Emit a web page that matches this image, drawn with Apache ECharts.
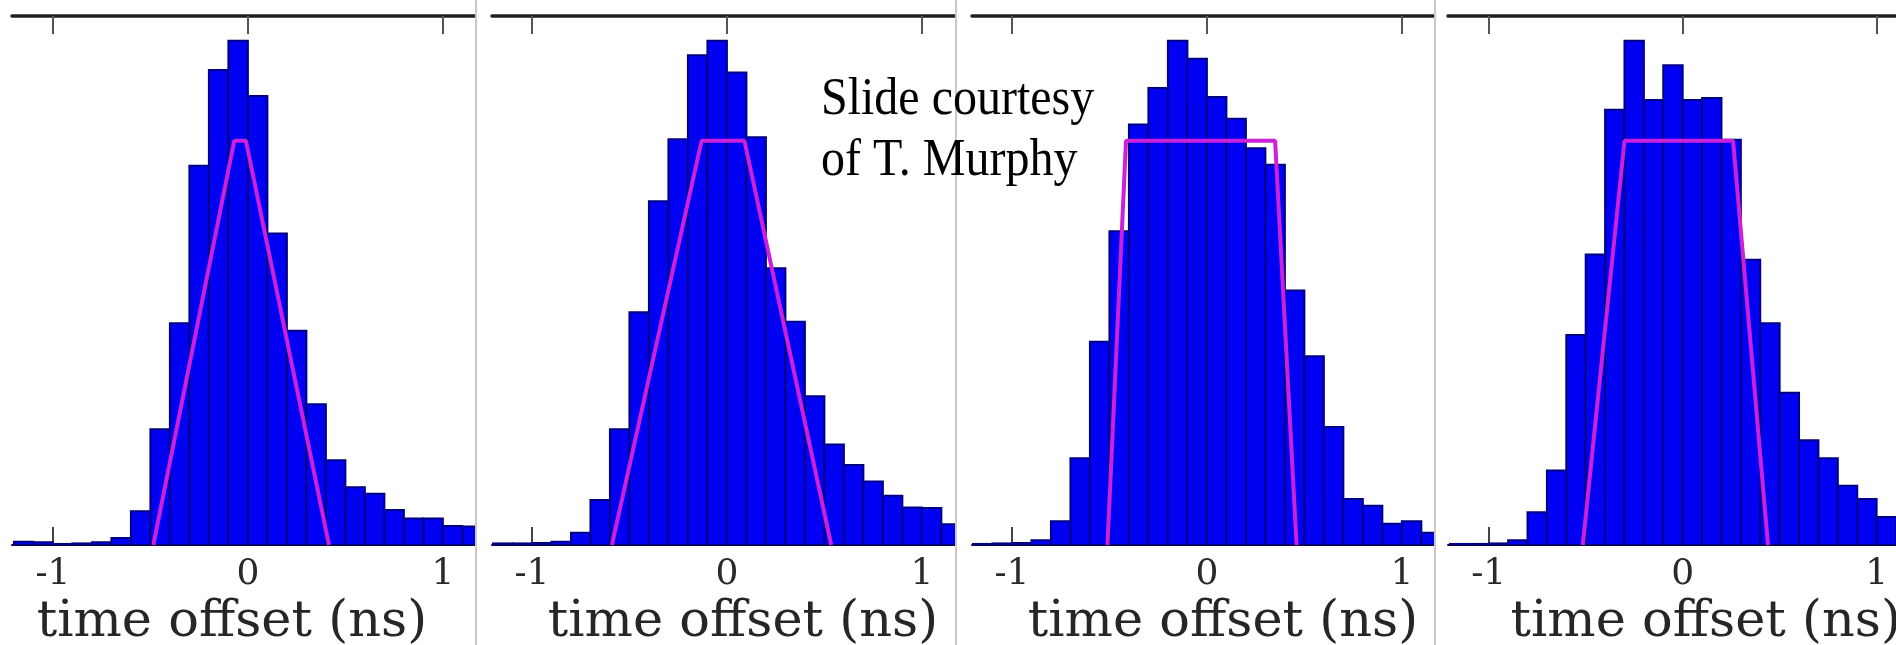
<!DOCTYPE html>
<html>
<head>
<meta charset="utf-8">
<script src="https://cdn.jsdelivr.net/npm/echarts@6/dist/echarts.min.js"></script>
<style>
  html, body { margin: 0; padding: 0; background: #ffffff; }
  #chart { width: 1896px; height: 645px; }
</style>
</head>
<body>
<div id="chart"></div>
<script>
// Histogram bins: left edge of each 0.1 ns bin
const binLefts = [-1.2, -1.1, -1.0, -0.9, -0.8, -0.7, -0.6, -0.5, -0.4, -0.3, -0.2, -0.1,
                  0.0, 0.1, 0.2, 0.3, 0.4, 0.5, 0.6, 0.7, 0.8, 0.9, 1.0, 1.1];
const binWidth = 0.1;

// Counts per bin (relative units) for the four runs
const countsA = [0.6, 0.5, 0.2, 0.3, 0.5, 1.3, 6.4, 21.9, 41.9, 71.7, 89.8, 95.3,
                 84.9, 58.9, 40.5, 26.6, 16.0, 10.9, 9.7, 6.6, 5.0, 5.0, 3.6, 3.5];
const countsB = [0.3, 0.3, 0.4, 0.6, 2.3, 8.5, 21.9, 44.0, 65.0, 76.7, 92.6, 95.3,
                 89.3, 77.1, 52.3, 42.2, 28.1, 19.0, 15.1, 12.0, 9.3, 7.1, 7.0, 3.9];
const countsC = [0.2, 0.3, 0.4, 0.9, 4.5, 16.4, 38.4, 59.3, 79.5, 86.4, 95.3, 91.9,
                 84.7, 80.6, 75.0, 71.9, 48.1, 35.7, 22.3, 8.7, 7.4, 4.0, 4.5, 2.3];
const countsD = [0.2, 0.2, 0.3, 0.9, 6.2, 14.1, 39.7, 54.9, 82.3, 95.3, 84.1, 90.7,
                 84.1, 84.5, 76.6, 53.9, 41.9, 28.8, 19.8, 16.4, 11.2, 8.7, 5.3, null];

// Model pulse shape (trapezoid) for each run: [time, level]
const modelA = [[-0.485, 0], [-0.07, 76.4], [-0.01, 76.4], [0.416, 0]];
const modelB = [[-0.59, 0], [-0.13, 76.4], [0.09, 76.4], [0.535, 0]];
const modelC = [[-0.51, 0], [-0.415, 76.4], [0.35, 76.4], [0.46, 0]];
const modelD = [[-0.515, 0], [-0.30, 76.4], [0.26, 76.4], [0.44, 0]];

const tickValues = [-1, 0, 1];
const axisTitle = 'time offset (ns)';
const creditText = 'Slide courtesy\nof T. Murphy';

const runs = [
  { counts: countsA, model: modelA },
  { counts: countsB, model: modelB },
  { counts: countsC, model: modelC },
  { counts: countsD, model: modelD }
];

// Panel frames (pixels), visible time range, and title shift from t = 0 (pixels)
const panels = [
  { left: 12,   width: 463, min: -1.21,  max: 1.165, titleShift: -16 },
  { left: 492,  width: 463, min: -1.205, max: 1.17,  titleShift: 16 },
  { left: 972,  width: 462, min: -1.205, max: 1.165, titleShift: 16 },
  { left: 1448, width: 448, min: -1.21,  max: 1.10,  titleShift: 23 }
];
const separators = [476, 956, 1435];

const serif = 'DejaVu Serif';
const chart = echarts.init(document.getElementById('chart'), null, { renderer: 'canvas' });

const grid = [], xAxis = [], yAxis = [], series = [];
panels.forEach((p, i) => {
  grid.push({ left: p.left, top: 16, width: p.width, height: 529 });
  // bottom axis with tick labels
  xAxis.push({
    type: 'value', gridIndex: i, position: 'bottom', min: p.min, max: p.max,
    splitLine: { show: false },
    axisLine: { show: true, lineStyle: { color: '#0b0b40', width: 2 } },
    axisTick: { show: true, inside: true, length: 18, customValues: tickValues,
                lineStyle: { color: '#444', width: 2 } },
    axisLabel: { show: true, customValues: tickValues, margin: 12,
                 fontFamily: serif, fontSize: 36, color: '#2a2a2a' }
  });
  // top frame line with inward ticks
  xAxis.push({
    type: 'value', gridIndex: i, position: 'top', min: p.min, max: p.max,
    splitLine: { show: false },
    axisLine: { show: true, lineStyle: { color: '#1e1e1e', width: 3.5 } },
    axisTick: { show: true, inside: true, length: 18, customValues: tickValues,
                lineStyle: { color: '#555', width: 2 } },
    axisLabel: { show: false }
  });
  yAxis.push({ type: 'value', gridIndex: i, min: 0, max: 100, show: false });

  const run = runs[i];
  const bins = binLefts.map((x, k) => [x, x + binWidth, run.counts[k]]);
  series.push({
    type: 'custom', xAxisIndex: 2 * i, yAxisIndex: i, clip: true, z: 2,
    data: bins,
    encode: { x: [0, 1], y: 2 },
    renderItem: function (params, api) {
      const v = api.value(2);
      if (v === null || isNaN(v)) return null;
      const a = api.coord([api.value(0), v]);
      const b = api.coord([api.value(1), 0]);
      return {
        type: 'rect',
        shape: { x: a[0], y: a[1], width: b[0] - a[0], height: b[1] - a[1] },
        style: { fill: '#0000f2', stroke: '#000085', lineWidth: 2 }
      };
    }
  });
  series.push({
    type: 'line', xAxisIndex: 2 * i, yAxisIndex: i, z: 3,
    data: run.model, showSymbol: false, symbol: 'none', clip: true,
    lineStyle: { color: '#cc20da', width: 4 },
    animation: false
  });
});

chart.setOption({
  backgroundColor: '#ffffff',
  animation: false,
  grid, xAxis, yAxis, series
});

// Axis titles placed relative to t = 0 of each panel, separators and credit text
const graphic = [];
panels.forEach((p, i) => {
  const cx = chart.convertToPixel({ xAxisIndex: 2 * i }, 0) + p.titleShift;
  graphic.push({
    type: 'text', z: 10,
    style: { text: axisTitle, x: cx, y: 648, align: 'center', verticalAlign: 'bottom',
             font: '51px "DejaVu Serif"', lineHeight: 51, fill: '#262626' }
  });
});
separators.forEach((sx) => {
  graphic.push({
    type: 'line', z: 5,
    shape: { x1: sx, y1: 0, x2: sx, y2: 645 },
    style: { stroke: '#c8c8c8', lineWidth: 2 }
  });
});
graphic.push({
  type: 'text', z: 20, x: 821, y: 69, scaleY: 1.1,
  style: { text: creditText, x: 0, y: 0, align: 'left', verticalAlign: 'top',
           font: '48px "Liberation Serif"', lineHeight: 56, fill: '#000000' }
});
chart.setOption({ graphic });
</script>
</body>
</html>
